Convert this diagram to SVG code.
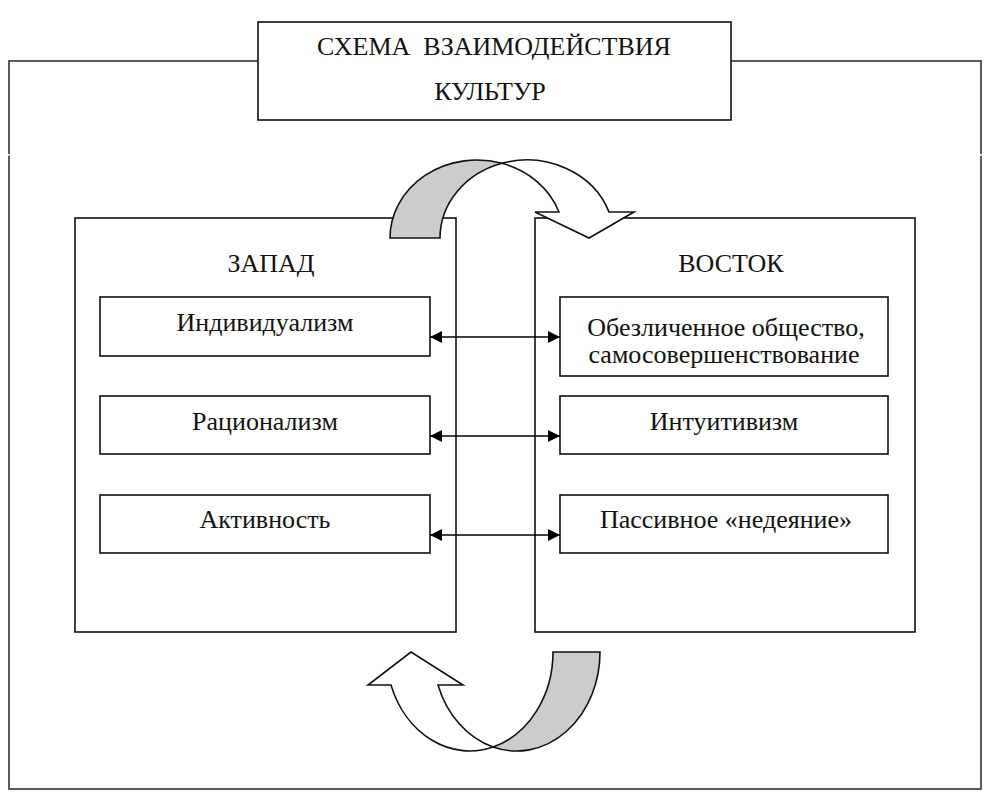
<svg xmlns="http://www.w3.org/2000/svg" width="994" height="802" viewBox="0 0 994 802">
<defs>
<style>
.frame{fill:none;stroke:#333;stroke-width:1.6}
.box{fill:#fff;stroke:#111;stroke-width:1.6}
text{font-family:"Liberation Serif","DejaVu Serif",serif;font-size:26px;fill:#111;text-anchor:middle}
.conn{stroke:#000;stroke-width:1.6;fill:none;marker-start:url(#ah);marker-end:url(#ah)}
.ua{stroke:#111;stroke-width:1.6;stroke-linejoin:miter}
</style>
<marker id="ah" viewBox="0 0 12 12" refX="12" refY="6" markerWidth="12" markerHeight="12" markerUnits="userSpaceOnUse" orient="auto-start-reverse">
<path d="M0,0 L12,6 L0,12 Z" fill="#000"/>
</marker>
</defs>
<rect width="994" height="802" fill="#fff"/>
<rect class="frame" x="9" y="61" width="972" height="728"/>
<rect x="0" y="154" width="994" height="1.5" fill="#fff"/>
<g id="title">
<rect class="box" x="258" y="22" width="473" height="98"/>
<text x="494" y="55" xml:space="preserve">СХЕМА  ВЗАИМОДЕЙСТВИЯ</text>
<text x="490" y="100">КУЛЬТУР</text>
</g>
<g id="west">
<rect class="box" x="75" y="218" width="381" height="414"/>
<text x="271" y="272">ЗАПАД</text>
</g>
<g id="east">
<rect class="box" x="535" y="218" width="380" height="414"/>
<text x="731" y="272">ВОСТОК</text>
</g>
<g id="w1">
<rect class="box" x="100" y="297" width="330" height="59"/>
<text x="265" y="331">Индивидуализм</text>
</g>
<g id="w2">
<rect class="box" x="100" y="396" width="330" height="58"/>
<text x="265" y="430">Рационализм</text>
</g>
<g id="w3">
<rect class="box" x="100" y="495" width="330" height="58"/>
<text x="265" y="528">Активность</text>
</g>
<g id="e1">
<rect class="box" x="560" y="297" width="328" height="79"/>
<text x="726" y="336">Обезличенное общество,</text>
<text x="724" y="363">самосовершенствование</text>
</g>
<g id="e2">
<rect class="box" x="560" y="396" width="328" height="58"/>
<text x="724" y="430">Интуитивизм</text>
</g>
<g id="e3">
<rect class="box" x="560" y="495" width="328" height="58"/>
<text x="726" y="528">Пассивное «недеяние»</text>
</g>
<g id="connectors">
<line class="conn" x1="430" y1="337" x2="560" y2="337"/>
<line class="conn" x1="430" y1="436" x2="560" y2="436"/>
<line class="conn" x1="430" y1="535" x2="560" y2="535"/>
</g>
<g id="arrow-top">
<path class="ua" fill="#cccccc" d="M390,238 A87,78 0 0 1 502,163.3 A87,78 0 0 0 440,238 Z"/>
<path class="ua" fill="#fff" d="M502,163.3 A87,78 0 0 1 609,212 L634,212 L589,238 L535,212 L559,212 A87,78 0 0 0 502,163.3 Z"/>
</g>
<g id="arrow-bottom">
<path class="ua" fill="#cccccc" d="M553,652 L600,652 A83.5,99 0 0 1 493,747 A83.5,99 0 0 0 553,652 Z"/>
<path class="ua" fill="#fff" d="M493,747 A83.5,99 0 0 1 391,685 L368,685 L411,652 L463,685 L438,685 A83.5,99 0 0 0 493,747 Z"/>
</g>
</svg>
